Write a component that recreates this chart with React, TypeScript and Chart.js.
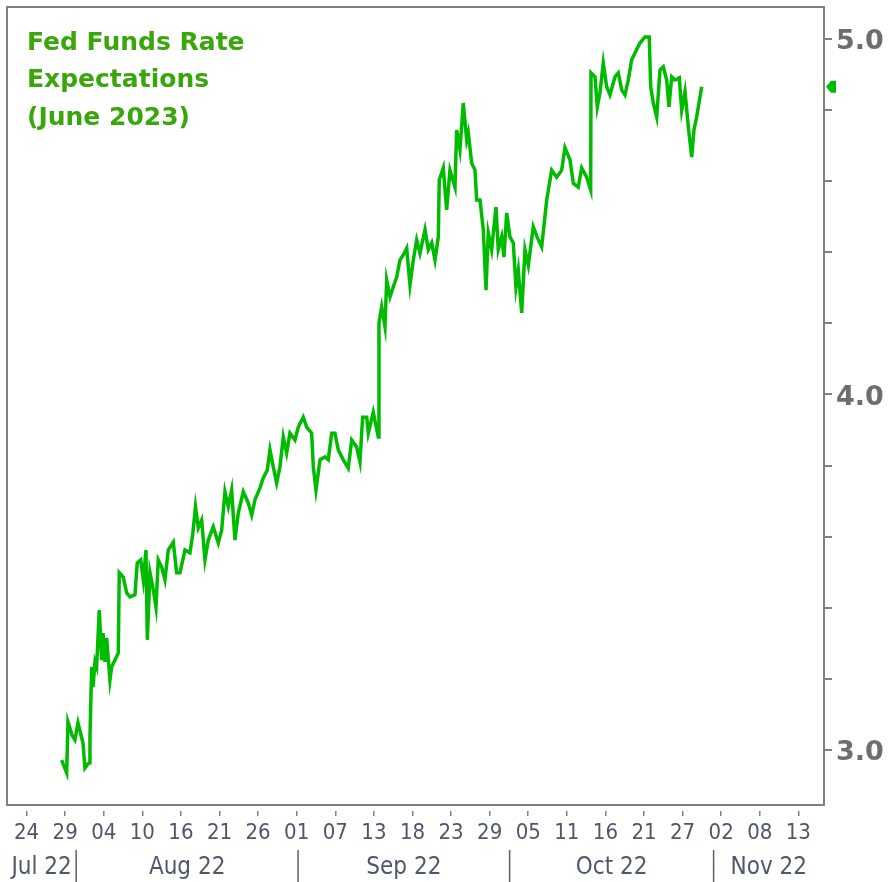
import React, { useEffect, useRef } from "react";
import { Chart, registerables } from "chart.js";

Chart.register(...registerables);

// ---- data (x = days since 24 Jul 2022, y = implied June 2023 rate, %) ----
const dayOffsets = [
  5.09, 5.82, 6.01, 6.59, 7.02, 7.46, 8.18, 8.47, 9.06, 9.2,
  9.45, 9.64, 9.93, 10.17, 10.55, 10.9, 11.09, 11.38, 11.62, 12.1,
  12.35, 12.83, 13.31, 13.45, 14.03, 14.53, 15.01, 15.73, 16.06, 16.56,
  16.94, 17.33, 17.52, 17.91, 18.39, 18.78, 19.11, 19.61, 20.08, 20.56,
  21.29, 21.78, 22.26, 22.99, 23.71, 24.1, 24.51, 24.92, 25.41, 25.89,
  26.37, 27.09, 27.82, 28.31, 28.79, 29.27, 29.76, 30.24, 30.72, 31.45,
  32.17, 32.67, 33.14, 33.87, 34.35, 34.93, 35.32, 35.8, 36.29, 36.77,
  37.25, 37.74, 38.22, 38.95, 39.43, 40.15, 40.65, 41.37, 41.61, 42.0,
  42.58, 43.3, 43.78, 44.28, 44.75, 45.23, 45.96, 46.68, 47.18, 47.9,
  48.38, 48.77, 49.36, 49.59, 50.31, 51.04, 51.14, 51.53, 52.01, 52.26,
  52.74, 53.21, 53.71, 54.19, 54.67, 55.16, 55.64, 56.12, 56.61, 57.09,
  57.82, 58.29, 58.79, 59.27, 59.75, 59.89, 60.47, 60.96, 61.44, 62.17,
  62.41, 62.89, 63.37, 63.87, 64.1, 64.59, 65.07, 65.32, 65.8, 66.28,
  66.67, 67.0, 67.49, 68.12, 68.45, 68.95, 69.28, 69.67, 70.15, 70.63,
  71.02, 71.36, 71.85, 72.33, 72.81, 73.53, 74.14, 74.75, 75.48, 76.2,
  76.93, 77.65, 78.13, 78.86, 79.34, 80.06, 80.56, 81.28, 81.86, 81.91,
  82.49, 82.82, 83.21, 83.69, 84.18, 84.66, 85.39, 85.87, 86.36, 86.84,
  87.32, 87.81, 88.29, 89.01, 89.74, 90.36, 90.57, 90.95, 91.44, 91.92,
  92.4, 92.89, 93.22, 93.62, 94.09, 94.72, 95.07, 95.55, 96.03, 96.52,
  96.85, 97.24, 97.97,
];

const rateValues = [
  2.970, 2.934, 3.078, 3.041, 3.027, 3.075, 3.019, 2.948, 2.963, 3.036,
  3.233, 3.176, 3.247, 3.233, 3.393, 3.252, 3.328, 3.247, 3.314, 3.196,
  3.233, 3.252, 3.272, 3.498, 3.486, 3.441, 3.430, 3.436, 3.526, 3.534,
  3.478, 3.562, 3.309, 3.498, 3.450, 3.401, 3.534, 3.514, 3.478, 3.562,
  3.584, 3.498, 3.498, 3.562, 3.554, 3.604, 3.684, 3.624, 3.646, 3.534,
  3.590, 3.627, 3.582, 3.618, 3.726, 3.684, 3.731, 3.590, 3.666, 3.726,
  3.695, 3.660, 3.703, 3.737, 3.765, 3.787, 3.844, 3.796, 3.751, 3.796,
  3.880, 3.835, 3.891, 3.872, 3.908, 3.936, 3.908, 3.891, 3.796, 3.731,
  3.816, 3.824, 3.816, 3.891, 3.891, 3.844, 3.816, 3.793, 3.872, 3.852,
  3.810, 3.936, 3.936, 3.891, 3.950, 3.880, 4.202, 4.247, 4.191, 4.322,
  4.275, 4.303, 4.331, 4.379, 4.393, 4.412, 4.308, 4.379, 4.435, 4.398,
  4.464, 4.408, 4.427, 4.379, 4.444, 4.604, 4.638, 4.520, 4.632, 4.584,
  4.745, 4.689, 4.821, 4.717, 4.737, 4.652, 4.632, 4.548, 4.548, 4.464,
  4.294, 4.455, 4.408, 4.528, 4.408, 4.444, 4.387, 4.511, 4.444, 4.427,
  4.303, 4.350, 4.230, 4.408, 4.364, 4.472, 4.441, 4.416, 4.548, 4.632,
  4.612, 4.632, 4.695, 4.661, 4.595, 4.584, 4.638, 4.612, 4.576, 4.906,
  4.895, 4.810, 4.850, 4.934, 4.867, 4.844, 4.895, 4.906, 4.858, 4.844,
  4.886, 4.943, 4.962, 4.990, 5.007, 5.007, 4.867, 4.821, 4.782, 4.914,
  4.923, 4.886, 4.810, 4.895, 4.886, 4.892, 4.801, 4.853, 4.754, 4.669,
  4.745, 4.782, 4.867,
];

const xTickDays = [0, 5.6, 11.2, 16.8, 22.4, 28, 33.6, 39.2, 44.8, 50.4, 56, 61.6, 67.2, 72.8, 78.4, 84, 89.6, 95.2, 100.8, 106.4, 112];
const xTickLabels = ["24", "29", "04", "10", "16", "21", "26", "01", "07", "13", "18", "23", "29", "05", "11", "16", "21", "27", "02", "08", "13"];

const monthBoundaryDays = [7.2, 39.4, 70.1, 99.7];
const monthLabels = ["Jul 22", "Aug 22", "Sep 22", "Oct 22", "Nov 22"];

const yTickValues = [3.0, 3.2, 3.4, 3.6, 3.8, 4.0, 4.2, 4.4, 4.6, 4.8, 5.0];
const yTickLabels = ["3.0", "", "", "", "", "4.0", "", "", "", "", "5.0"];

const titleLines = ["Fed Funds Rate", "Expectations", "(June 2023)"];

const LINE_GREEN = "#00bb00";
const TITLE_GREEN = "#3aa60c";
const AXIS_GRAY = "#808080";
const LABEL_COLOR = "#4e586a";
const NARROW_FONT = "'Liberation Sans Narrow', 'DejaVu Sans Condensed', 'Roboto Condensed', sans-serif";

const decorPlugin = {
  id: "decor",
  afterDraw(chart: any) {
    const { ctx, chartArea } = chart;
    const { left, top, right, bottom } = chartArea;
    const xs = chart.scales.x;
    const ys = chart.scales.y;
    ctx.save();
    // left and top frame
    ctx.strokeStyle = AXIS_GRAY;
    ctx.lineWidth = 2;
    ctx.beginPath();
    ctx.moveTo(left, bottom);
    ctx.lineTo(left, top);
    ctx.lineTo(right, top);
    ctx.stroke();

    // month separators and labels
    const bounds = [left, ...monthBoundaryDays.map((d) => xs.getPixelForValue(d)), right];
    ctx.strokeStyle = "#606060";
    ctx.lineWidth = 1.5;
    for (let i = 1; i < bounds.length - 1; i++) {
      ctx.beginPath();
      ctx.moveTo(bounds[i], bottom + 45);
      ctx.lineTo(bounds[i], chart.height);
      ctx.stroke();
    }
    ctx.fillStyle = LABEL_COLOR;
    ctx.font = `24px ${NARROW_FONT}`;
    ctx.textAlign = "center";
    ctx.textBaseline = "middle";
    for (let i = 0; i < monthLabels.length; i++) {
      ctx.fillText(monthLabels[i], (bounds[i] + bounds[i + 1]) / 2, bottom + 63);
    }

    // title
    ctx.fillStyle = TITLE_GREEN;
    ctx.font = "bold 25px 'DejaVu Sans', sans-serif";
    ctx.textAlign = "left";
    ctx.textBaseline = "alphabetic";
    const titleX = left + 20;
    const titleY = [50, 87, 125];
    titleLines.forEach((t, i) => ctx.fillText(t, titleX, titleY[i]));

    // last value marker on the axis
    const last = rateValues[rateValues.length - 1];
    const yp = ys.getPixelForValue(last);
    ctx.fillStyle = LINE_GREEN;
    ctx.beginPath();
    ctx.moveTo(right + 2, yp);
    ctx.lineTo(right + 7, yp - 6);
    ctx.lineTo(right + 12, yp - 6);
    ctx.lineTo(right + 12, yp + 6);
    ctx.lineTo(right + 7, yp + 6);
    ctx.closePath();
    ctx.fill();
    ctx.restore();
  },
};

export default function App() {
  const canvasRef = useRef<HTMLCanvasElement | null>(null);

  useEffect(() => {
    const canvas = canvasRef.current;
    if (!canvas) return;
    const chart = new Chart(canvas, {
      type: "line",
      data: {
        datasets: [
          {
            data: dayOffsets.map((d, i) => ({ x: d, y: rateValues[i] })),
            borderColor: LINE_GREEN,
            borderWidth: 3.5,
            pointRadius: 0,
            tension: 0,
            fill: false,
          },
        ],
      },
      options: {
        animation: false,
        responsive: true,
        maintainAspectRatio: false,
        layout: { autoPadding: false, padding: { left: 7, top: 7, right: 0, bottom: 0 } },
        plugins: {
          legend: { display: false },
          tooltip: { enabled: false },
          title: { display: false },
        },
        scales: {
          x: {
            type: "linear",
            min: -2.84,
            max: 115.72,
            afterBuildTicks: (s: any) => {
              s.ticks = xTickDays.map((v) => ({ value: v }));
            },
            afterFit: (s: any) => {
              s.height = 77;
              s.paddingLeft = 0;
              s.paddingRight = 0;
            },
            ticks: {
              autoSkip: false,
              maxRotation: 0,
              minRotation: 0,
              padding: 4,
              color: LABEL_COLOR,
              font: { family: NARROW_FONT, size: 22 },
              callback: (_v: any, i: number) => xTickLabels[i],
            },
            grid: {
              drawOnChartArea: false,
              drawTicks: true,
              tickLength: 11,
              color: AXIS_GRAY,
              lineWidth: 1.5,
              tickBorderDash: [0, 5, 6, 50],
            },
            border: { display: true, color: AXIS_GRAY, width: 2 },
          },
          y: {
            type: "linear",
            position: "right",
            min: 2.8437,
            max: 5.0915,
            afterBuildTicks: (s: any) => {
              s.ticks = yTickValues.map((v) => ({ value: v }));
            },
            afterFit: (s: any) => {
              s.width = 64;
              s.paddingTop = 0;
              s.paddingBottom = 0;
            },
            ticks: {
              autoSkip: false,
              padding: 4,
              labelOffset: 3,
              color: "#6e6e6e",
              font: { family: "'DejaVu Sans', sans-serif", size: 27, weight: "bold" },
              callback: (_v: any, i: number) => yTickLabels[i],
            },
            grid: {
              drawOnChartArea: false,
              drawTicks: true,
              tickLength: 8,
              color: AXIS_GRAY,
              lineWidth: 2,
            },
            border: { display: true, color: AXIS_GRAY, width: 2 },
          },
        },
      },
      plugins: [decorPlugin],
    } as any);
    return () => chart.destroy();
  }, []);

  return (
    <div style={{ position: "absolute", left: 0, top: 0, width: 888, height: 882, background: "#fff" }}>
      <canvas ref={canvasRef} />
    </div>
  );
}
